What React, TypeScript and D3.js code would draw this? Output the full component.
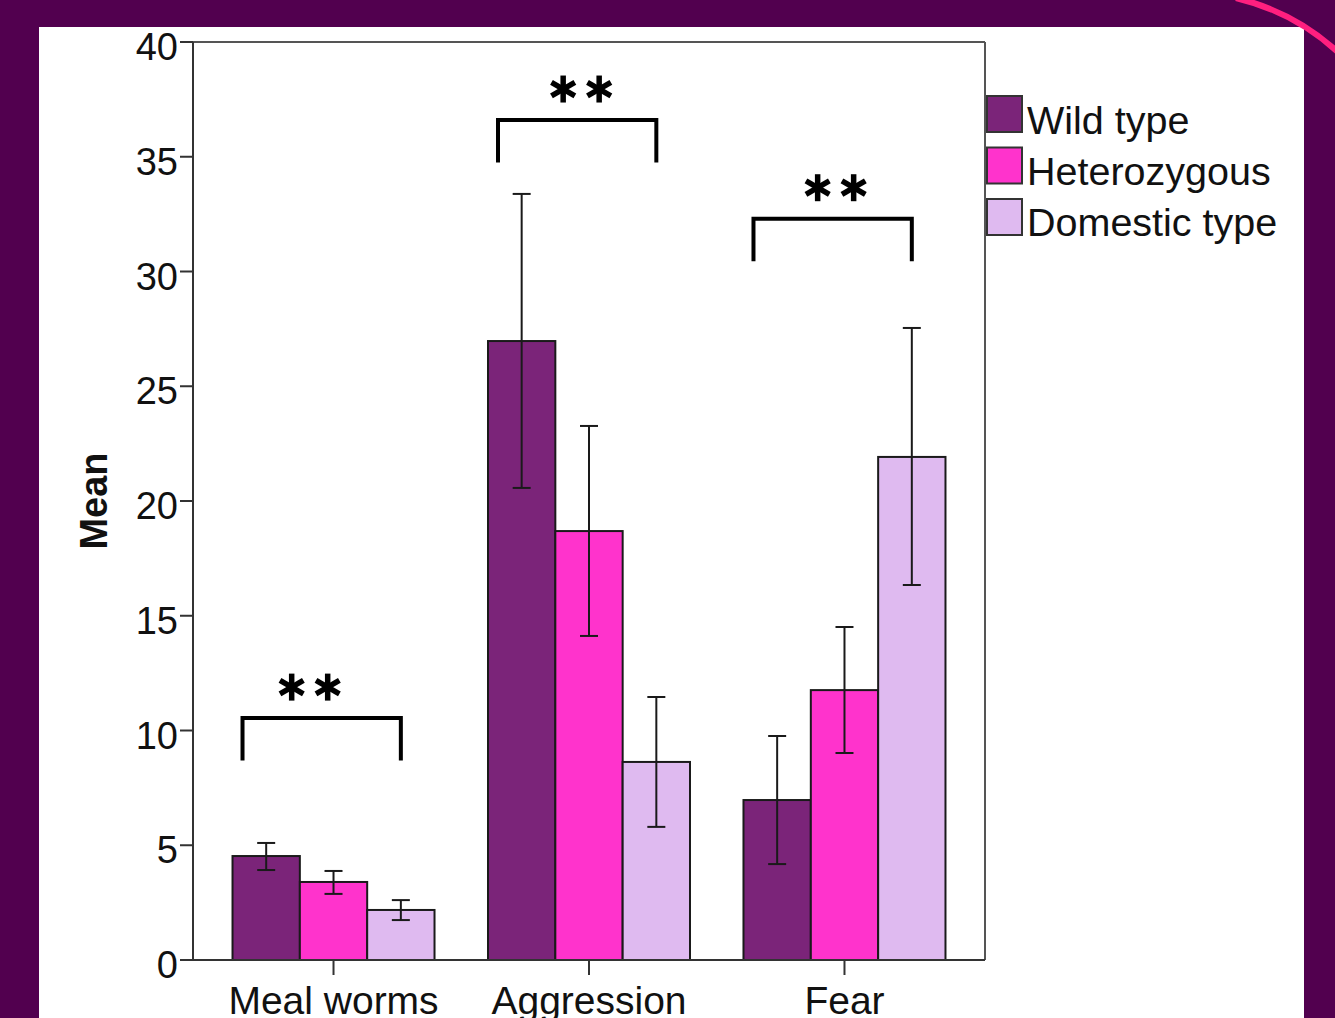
import React from "react";
import * as d3 from "d3";

const categories = ["Meal worms", "Aggression", "Fear"];
const seriesNames = ["Wild type", "Heterozygous", "Domestic type"];
const seriesColors = ["#7b2479", "#ff33cc", "#dfbaf0"];
const wildMeans = [4.53, 26.97, 6.97];
const hetMeans = [3.4, 18.69, 11.76];
const domMeans = [2.18, 8.63, 21.92];
const wildErr = [[3.92, 5.1], [20.57, 33.38], [4.18, 9.76]];
const hetErr = [[2.88, 3.88], [14.12, 23.27], [9.02, 14.51]];
const domErr = [[1.74, 2.61], [5.8, 11.46], [16.34, 27.54]];
const bracketTop = [10.54, 36.6, 32.3];
const bracketLeg = 1.85;
const yTicks = [0, 5, 10, 15, 20, 25, 30, 35, 40];

function Star({ cx, cy, r }: { cx: number; cy: number; r: number }) {
  const angles = [90, 30, -30];
  return (
    <g stroke="#000" strokeWidth={5.5}>
      {angles.map((a) => {
        const rad = (a * Math.PI) / 180;
        const dx = Math.cos(rad) * r, dy = Math.sin(rad) * r;
        return <line key={a} x1={cx - dx} y1={cy - dy} x2={cx + dx} y2={cy + dy} />;
      })}
    </g>
  );
}

export default function App() {
  const W = 1335, H = 1018;
  const left = 193, right = 985, top = 42, bottom = 960;
  const y = d3.scaleLinear().domain([0, 40]).range([bottom, top]);
  const x = d3.scalePoint<string>().domain(categories).range([left, right]).padding(0.55);
  const groupW = 202;
  const xs = d3.scaleBand<string>().domain(seriesNames).range([-groupW / 2, groupW / 2]);
  const means = [wildMeans, hetMeans, domMeans];
  const errs = [wildErr, hetErr, domErr];
  const font = "Arial, 'Liberation Sans', sans-serif";
  const bw = xs.bandwidth();
  const starShift = [-12, 4, 3];

  return (
    <svg width={W} height={H} style={{ position: "absolute", left: 0, top: 0 }} fontFamily={font}>
      <rect x={0} y={0} width={W} height={H} fill="#52004f" />
      <rect x={39} y={27} width={1265} height={H - 27} fill="#ffffff" />
      <path d={`M 1236 -2 A 230 230 0 0 1 1340 54`} fill="none" stroke="#ff1f7f" strokeWidth={6} />

      {/* frame */}
      <line x1={left} x2={right} y1={top} y2={top} stroke="#555" strokeWidth={2} />
      <line x1={right} x2={right} y1={top} y2={bottom} stroke="#555" strokeWidth={2} />

      {/* bars */}
      {categories.map((c, ci) =>
        seriesNames.map((s, si) => {
          const bx = (x(c) as number) + (xs(s) as number);
          const v = means[si][ci];
          return (
            <rect key={c + s} x={bx} y={y(v)} width={bw} height={bottom - y(v)}
              fill={seriesColors[si]} stroke="#1a1a1a" strokeWidth={2} />
          );
        })
      )}

      {/* error bars */}
      {categories.map((c, ci) =>
        seriesNames.map((s, si) => {
          const cx = (x(c) as number) + (xs(s) as number) + bw / 2;
          const [lo, hi] = errs[si][ci];
          return (
            <g key={"e" + c + s} stroke="#1a1a1a" strokeWidth={2}>
              <line x1={cx} x2={cx} y1={y(lo)} y2={y(hi)} />
              <line x1={cx - 9} x2={cx + 9} y1={y(lo)} y2={y(lo)} />
              <line x1={cx - 9} x2={cx + 9} y1={y(hi)} y2={y(hi)} />
            </g>
          );
        })
      )}

      {/* axes */}
      <line x1={left} x2={left} y1={top} y2={bottom} stroke="#333" strokeWidth={2} />
      <line x1={left} x2={right} y1={bottom} y2={bottom} stroke="#333" strokeWidth={2} />
      {yTicks.map((t) => (
        <g key={"yt" + t}>
          <line x1={left - 13} x2={left} y1={y(t)} y2={y(t)} stroke="#333" strokeWidth={2} />
          <text x={left - 15} y={y(t) + 18} textAnchor="end" fontSize={38} fill="#111">{t}</text>
        </g>
      ))}
      {categories.map((c) => (
        <g key={"xt" + c}>
          <line x1={x(c)} x2={x(c)} y1={bottom} y2={bottom + 15} stroke="#333" strokeWidth={2} />
          <text x={x(c)} y={1014} textAnchor="middle" fontSize={39} fill="#111">{c}</text>
        </g>
      ))}
      <text transform={`translate(107,${(top + bottom) / 2}) rotate(-90)`} textAnchor="middle"
        fontSize={38} fontWeight="bold" fill="#111">Mean</text>

      {/* significance brackets */}
      {categories.map((c, ci) => {
        const x1 = (x(c) as number) + (xs(seriesNames[0]) as number) + 10;
        const x2 = (x(c) as number) + (xs(seriesNames[2]) as number) + bw / 2;
        const yt = y(bracketTop[ci]);
        const yb = y(bracketTop[ci] - bracketLeg);
        const mid = (x1 + x2) / 2 + starShift[ci];
        return (
          <g key={"b" + c}>
            <path d={`M ${x1} ${yb} L ${x1} ${yt} L ${x2} ${yt} L ${x2} ${yb}`} fill="none"
              stroke="#000" strokeWidth={4} />
            <Star cx={mid - 18} cy={yt - 31} r={13.5} />
            <Star cx={mid + 18} cy={yt - 31} r={13.5} />
          </g>
        );
      })}

      {/* legend */}
      {seriesNames.map((s, si) => (
        <g key={"l" + s}>
          <rect x={987} y={96 + si * 51.5} width={35} height={36} fill={seriesColors[si]}
            stroke="#333" strokeWidth={2} />
          <text x={1027} y={134 + si * 51} fontSize={39.5} fill="#111">{s}</text>
        </g>
      ))}
    </svg>
  );
}
